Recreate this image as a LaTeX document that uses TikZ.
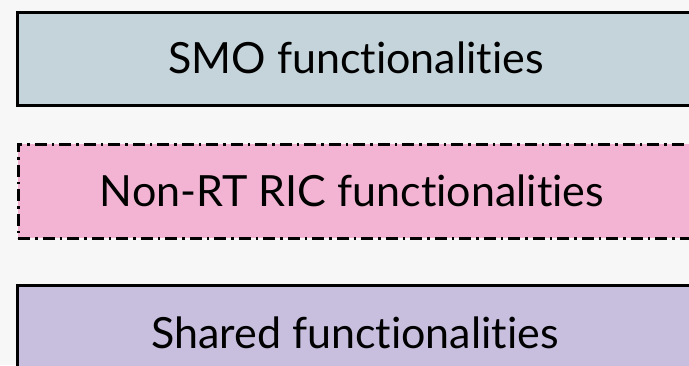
\documentclass[tikz,border=0pt]{standalone}
\usepackage{fontspec}
\setmainfont{Lato}[Ligatures=NoCommon]
\definecolor{bgpaper}{HTML}{F7F7F7}
\definecolor{smofill}{HTML}{C5D4DB}
\definecolor{ricfill}{HTML}{F2B4D2}
\definecolor{sharedfill}{HTML}{C8BFDF}
\begin{document}
\begin{tikzpicture}[x=1pt,y=-1pt,
  layer/.style={rectangle, anchor=north west, inner sep=0pt, line width=3pt},
  solidlayer/.style={layer, draw=black},
  dashlayer/.style={layer, draw=black, line width=2.8pt,
    dash pattern=on 12pt off 5pt on 2.5pt off 5pt},
  label/.style={font=\fontsize{43}{48}\selectfont}]
  \fill[bgpaper] (0,0) rectangle (689,365);
  \useasboundingbox (0,0) rectangle (689,365);
  \node[solidlayer, fill=smofill, minimum width=690pt, minimum height=93pt]
    (smo) at (16,11) {};
  \node[dashlayer, fill=ricfill, minimum width=690pt, minimum height=94pt]
    (ric) at (17,143) {};
  \node[solidlayer, fill=sharedfill, minimum width=690pt, minimum height=100pt]
    (shared) at (16,284) {};
  \node[label] (smotext) at (356,58) {SMO functionalities};
  \node[label] (rictext) at (352,191) {Non-RT RIC functionalities};
  \node[label] (sharedtext) at (355,333) {Shared functionalities};
\end{tikzpicture}
\end{document}
